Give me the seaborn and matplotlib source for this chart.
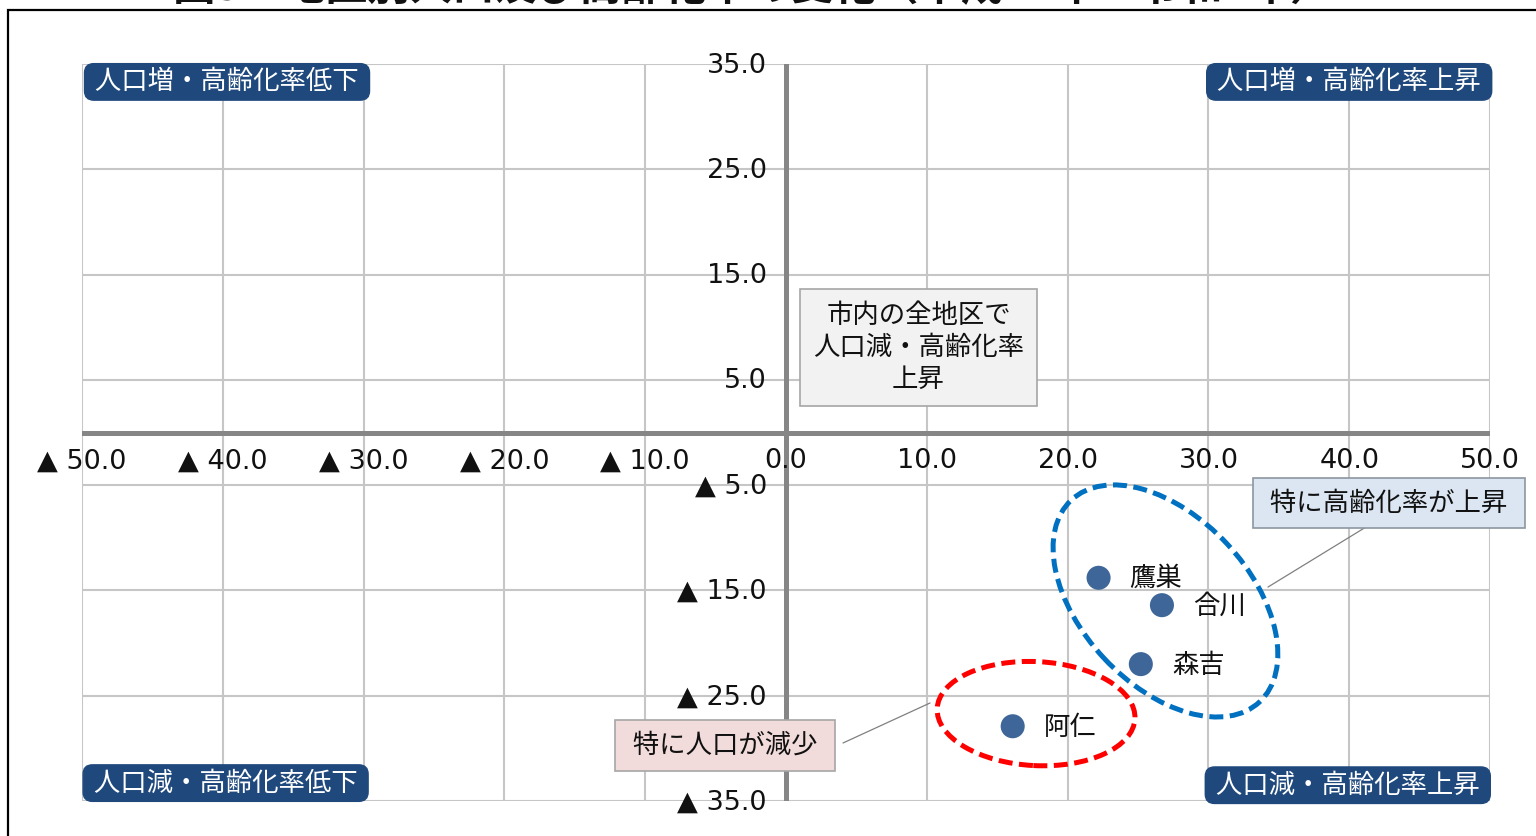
import matplotlib
matplotlib.use("Agg")
import matplotlib.pyplot as plt
import matplotlib.patches as mpatches
import matplotlib.transforms as mtransforms
import seaborn as sns
import pandas as pd

# --- data -------------------------------------------------------------
districts = ["鷹巣", "合川", "森吉", "阿仁"]
aging_change = [22.2, 26.7, 25.2, 16.1]       # 高齢化率の変化 (x)
population_change = [-13.8, -16.4, -22.0, -27.9]  # 人口の変化 (y)

x_ticks = [-50, -40, -30, -20, -10, 0, 10, 20, 30, 40, 50]
y_ticks = [35, 25, 15, 5, -5, -15, -25, -35]

title = "図5　地区別人口及び高齢化率の変化（平成22年→令和2年）"
quadrant_labels = {
    "人口増・高齢化率低下": (-39.7, 33.3),
    "人口増・高齢化率上昇": (40.0, 33.3),
    "人口減・高齢化率低下": (-39.8, -33.3),
    "人口減・高齢化率上昇": (39.9, -33.5),
}
note_all = "市内の全地区で\n人口減・高齢化率\n上昇"
note_aging = "特に高齢化率が上昇"
note_pop = "特に人口が減少"

df = pd.DataFrame({"地区": districts, "x": aging_change, "y": population_change})

# --- style ------------------------------------------------------------
sns.set_style("white")
plt.rcParams["font.family"] = ["DejaVu Sans", "Noto Sans CJK JP"]
JP = ["Noto Sans CJK JP", "DejaVu Sans"]

fig = plt.figure(figsize=(15.36, 8.36), dpi=100)
ax = fig.add_axes([82 / 1536, 1 - 801 / 836, 1408 / 1536, 737 / 836])

ax.set_xlim(-50, 50)
ax.set_ylim(-35, 35)
ax.set_xticks(x_ticks)
ax.set_yticks(y_ticks)
ax.grid(True, color="#c6c6c6", linewidth=1.5)
ax.tick_params(length=0, labelbottom=False, labelleft=False)
for s in ax.spines.values():
    s.set_visible(False)

# quadrant axes
ax.axhline(0, color="#868686", linewidth=3.6, zorder=2)
ax.axvline(0, color="#868686", linewidth=3.6, zorder=2)

def fmt(v):
    return f"▲ {abs(v):.1f}" if v < 0 else f"{v:.1f}"

for v in x_ticks:
    ax.text(v, -2.75, fmt(v), ha="center", va="center", fontsize=19.5,
            color="#111111", zorder=3)
for v in y_ticks:
    ax.text(-1.35, v - 0.15, fmt(v), ha="right", va="center", fontsize=19.5,
            color="#111111", zorder=3)

# points
sns.scatterplot(data=df, x="x", y="y", ax=ax, s=300, color="#3e6699",
                edgecolor="none", zorder=5, legend=False)
ax.set_xlabel("")
ax.set_ylabel("")
for name, xv, yv in zip(districts, aging_change, population_change):
    ax.annotate(name, (xv, yv), xytext=(31, -1), textcoords="offset pixels",
                ha="left", va="center", fontsize=19, family=JP, color="#111111",
                zorder=6)

# quadrant headers
for text, (qx, qy) in quadrant_labels.items():
    ax.text(qx, qy, " " + text + " ", ha="center", va="center", fontsize=19,
            family=JP, color="white", zorder=7,
            bbox=dict(boxstyle="round,pad=0.18,rounding_size=0.35",
                      facecolor="#1f497d", edgecolor="#1f497d"))

# call-out boxes
ax.text(9.41, 8.07, note_all, ha="center", va="center", fontsize=19,
        family=JP, color="#111111", linespacing=1.22, zorder=7,
        bbox=dict(boxstyle="square,pad=0.5", facecolor="#f2f2f2",
                  edgecolor="#a6a6a6", linewidth=1.2))
ax.text(42.83, -6.70, " " + note_aging + " ", ha="center", va="center",
        fontsize=19, family=JP, color="#111111", zorder=7,
        bbox=dict(boxstyle="square,pad=0.45", facecolor="#dce6f2",
                  edgecolor="#8c96a0", linewidth=1.2))
ax.text(-4.33, -29.72, " " + note_pop + " ", ha="center", va="center",
        fontsize=19, family=JP, color="#111111", zorder=7,
        bbox=dict(boxstyle="square,pad=0.45", facecolor="#f2dcdb",
                  edgecolor="#a6a6a6", linewidth=1.2))

ax.plot([41.19, 34.23], [-8.98, -14.68], color="#808080", linewidth=0.9, zorder=4)
ax.plot([4.05, 10.23], [-29.49, -25.69], color="#808080", linewidth=0.9, zorder=4)

# dashed grouping ellipses, sized in inches around a data-space centre
def ring(cx, cy, w, h, angle, color):
    tr = fig.dpi_scale_trans + mtransforms.ScaledTranslation(cx, cy, ax.transData)
    e = mpatches.Ellipse((0, 0), w, h, angle=angle, transform=tr, fill=False,
                         edgecolor=color, linewidth=3.6,
                         linestyle=(0, (2.8, 1.3)), zorder=4)
    ax.add_patch(e)

ring(26.95, -16.0, 2.76, 1.68, -47, "#0070c0")
ring(17.76, -26.7, 1.98, 1.04, -3, "#ff0000")

# outer frame and heading
fig.patches.append(mpatches.Rectangle((8 / 1536, -0.2), 1.2, 1.2 - 10 / 836,
                                      transform=fig.transFigure, fill=False,
                                      edgecolor="black", linewidth=1.6))
fig.text(0.49, 1 - 9 / 836, title, ha="center", va="bottom", fontsize=30.5,
         fontweight="bold", family=JP, color="#111111")

fig.savefig("out.png", dpi=100)
